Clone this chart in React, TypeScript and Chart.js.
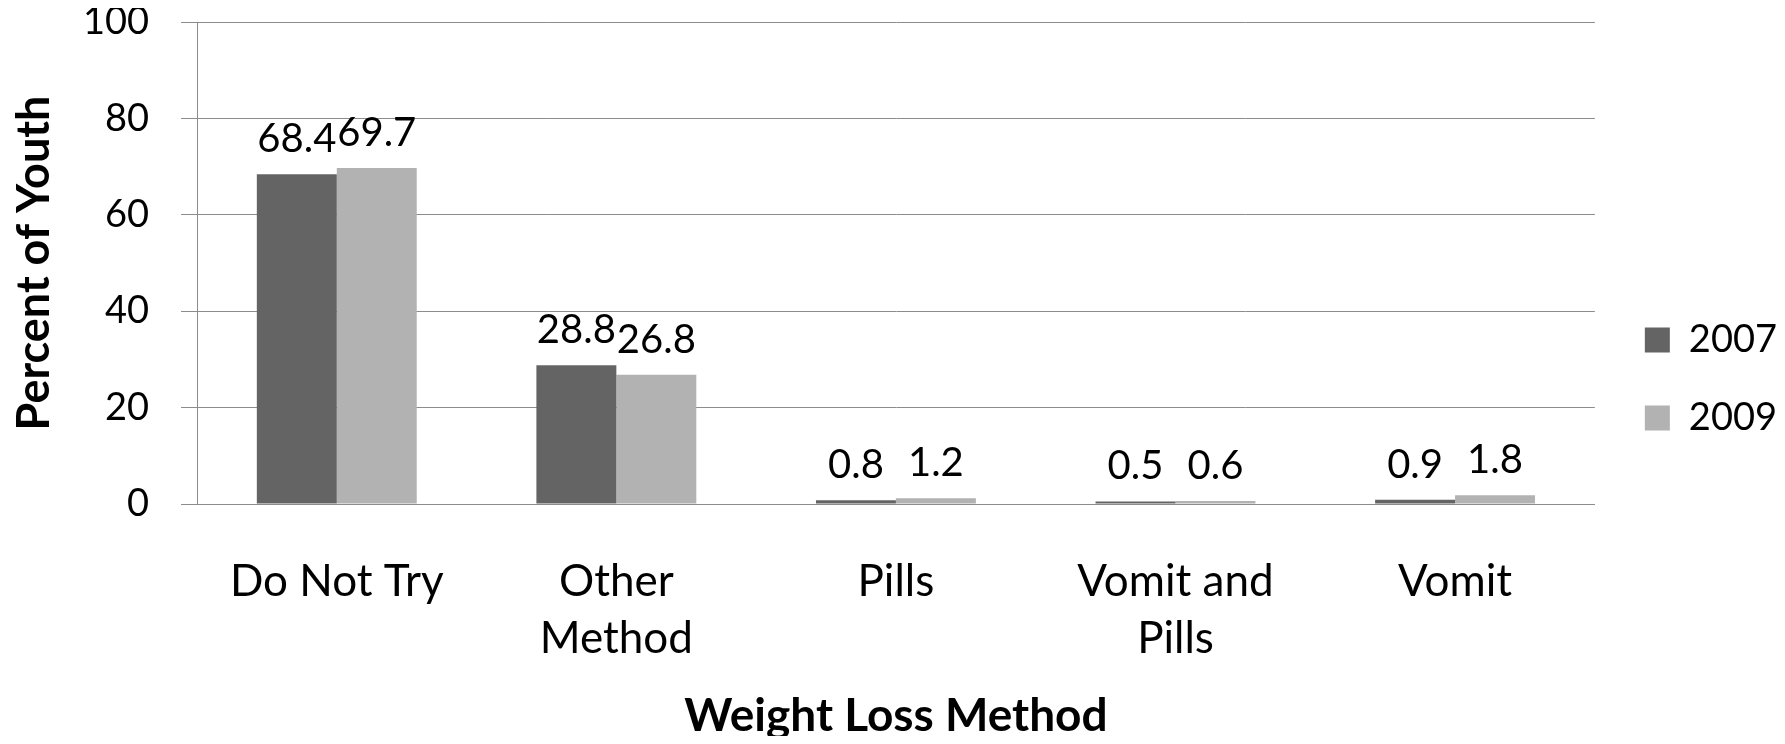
import React, { useEffect, useRef } from 'react';
import { Chart, registerables } from 'chart.js';

Chart.register(...registerables);

const categories: (string | string[])[] = ['Do Not Try', ['Other', 'Method'], 'Pills', ['Vomit and', 'Pills'], 'Vomit'];
const seriesNames = ['2007', '2009'];
const values2007 = [68.4, 28.8, 0.8, 0.5, 0.9];
const values2009 = [69.7, 26.8, 1.2, 0.6, 1.8];
const seriesColors = ['#646464', '#b2b2b2'];
const yMin = 0;
const yMax = 100;
const yStep = 20;
const xTitle = 'Weight Loss Method';
const yTitle = 'Percent of Youth';

const FONT = 'Lato';
const GRID = '#8c8c8c';

const valueLabels = {
  id: 'valueLabels',
  afterDatasetsDraw(chart: any) {
    const ctx = chart.ctx;
    ctx.save();
    ctx.font = `40px ${FONT}`;
    ctx.fillStyle = '#000';
    ctx.textAlign = 'center';
    ctx.textBaseline = 'middle';
    chart.data.datasets.forEach((ds: any, i: number) => {
      const meta = chart.getDatasetMeta(i);
      meta.data.forEach((bar: any, j: number) => {
        ctx.fillText(String(ds.data[j]), bar.x, bar.y - 35);
      });
    });
    ctx.restore();
  },
};

const legendShift = {
  id: 'legendShift',
  afterLayout(chart: any) {
    if (chart.legend) {
      chart.legend.left += 10;
      chart.legend.right += 10;
    }
  },
};

export default function App() {
  const ref = useRef<HTMLCanvasElement | null>(null);

  useEffect(() => {
    if (!ref.current) return;
    Chart.defaults.font.family = FONT;
    const chart = new Chart(ref.current, {
      type: 'bar',
      data: {
        labels: categories,
        datasets: [
          { label: seriesNames[0], data: values2007, backgroundColor: seriesColors[0], borderWidth: 0 },
          { label: seriesNames[1], data: values2009, backgroundColor: seriesColors[1], borderWidth: 0 },
        ],
      },
      options: {
        animation: false,
        responsive: true,
        maintainAspectRatio: false,
        categoryPercentage: 0.572,
        barPercentage: 1,
        layout: { padding: { top: 14, left: 0, right: 0, bottom: 0 } },
        plugins: {
          legend: {
            position: 'right',
            labels: {
              font: { family: FONT, size: 38 },
              color: '#000',
              boxWidth: 25,
              boxHeight: 25,
              padding: 40,
            },
          },
          tooltip: { enabled: false },
        },
        scales: {
          x: {
            grid: { display: false, drawTicks: false },
            border: { display: true, color: GRID, width: 1 },
            ticks: {
              color: '#000',
              font: { family: FONT, size: 44, lineHeight: 1.3 },
              padding: 49,
              autoSkip: false,
              maxRotation: 0,
              minRotation: 0,
            },
            title: {
              display: true,
              text: xTitle,
              color: '#000',
              font: { family: FONT, size: 46, weight: 'bold', lineHeight: 0.86 },
              padding: 0,
            },
            afterFit: (scale: any) => {
              scale.height = 232;
              scale.paddingLeft = 0;
              scale.paddingRight = 0;
            },
          },
          y: {
            min: yMin,
            max: yMax,
            ticks: {
              stepSize: yStep,
              color: '#000',
              font: { family: FONT, size: 38 },
              padding: 32,
            },
            grid: { color: GRID, lineWidth: 1, tickLength: 16, drawTicks: true },
            border: { display: true, color: GRID, width: 1 },
            title: {
              display: true,
              text: yTitle,
              color: '#000',
              font: { family: FONT, size: 45, weight: 'bold', lineHeight: 1 },
              padding: { top: 4, bottom: 0 },
            },
            afterFit: (scale: any) => {
              scale.width = 189;
              scale.paddingTop = 0;
              scale.paddingBottom = 0;
            },
          },
        },
      } as any,
      plugins: [valueLabels, legendShift],
    });
    return () => chart.destroy();
  }, []);

  return (
    <div style={{ position: 'relative', width: 1769, height: 728 }}>
      <canvas ref={ref} />
    </div>
  );
}
